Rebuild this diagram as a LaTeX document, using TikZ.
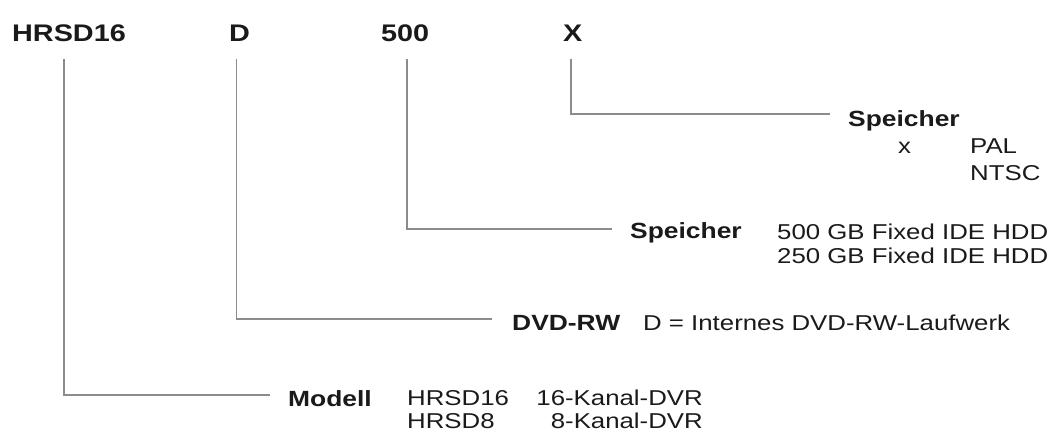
\documentclass[tikz,border=0pt]{standalone}
\usepackage{fontspec}
\newfontfamily\lf[FakeStretch=1.2]{Liberation Sans}
\definecolor{txt}{HTML}{1A1A1A}
\definecolor{ln}{HTML}{8C8C8C}
\tikzset{
  top/.style={anchor=base west, inner sep=0pt, text=txt, font=\lf\bfseries\fontsize{24}{28}\selectfont},
  lab/.style={anchor=base west, inner sep=0pt, text=txt, font=\lf\bfseries\fontsize{22}{26}\selectfont},
  val/.style={anchor=base west, inner sep=0pt, text=txt, font=\lf\fontsize{21.5}{25}\selectfont},
  conn/.style={draw=ln, line width=1.6pt, line cap=butt, line join=miter},
}
\begin{document}
\begin{tikzpicture}[x=1pt,y=-1pt]
\useasboundingbox (0,0) rectangle (1061,432);
% code parts
\node[top] (t1) at (12,41.5) {HRSD16};
\node[top] (t2) at (229,41.5) {D};
\node[top] (t3) at (381,41.5) {500};
\node[top] (t4) at (563,41.5) {X};
% X : Speicher
\node[lab] (l4) at (848,126) {Speicher};
\node[val] (v4a) at (898,153) {x};
\node[val] (v4b) at (970,153) {PAL};
\node[val] (v4c) at (970,180) {NTSC};
% 500 : Speicher
\node[lab] (l3) at (630,238) {Speicher};
\node[val] (v3a) at (777,239) {500 GB Fixed IDE HDD};
\node[val] (v3b) at (777,263) {250 GB Fixed IDE HDD};
% D : DVD-RW
\node[lab] (l2) at (512,330) {DVD-RW};
\node[val] (v2a) at (643,330) {D = Internes DVD-RW-Laufwerk};
% HRSD16 : Modell
\node[lab] (l1) at (288,406) {Modell};
\node[val] (v1a) at (407,405) {HRSD16};
\node[val] (v1b) at (407,428.5) {HRSD8};
\node[val, anchor=base east] (v1c) at (703,405) {16-Kanal-DVR};
\node[val, anchor=base east] (v1d) at (703,428.5) {8-Kanal-DVR};
% connectors
\draw[conn] ([xshift=-5pt,yshift=-17pt]t1.south) |- ([xshift=-18pt,yshift=11pt]l1.base west);
\draw[conn] ([xshift=-3pt,yshift=-17pt]t2.south) |- ([xshift=-20pt,yshift=11pt]l2.base west);
\draw[conn] ([xshift=2pt,yshift=-17pt]t3.south) |- ([xshift=-18pt,yshift=9pt]l3.base west);
\draw[conn] ([xshift=-2pt,yshift=-17pt]t4.south) |- ([xshift=-18pt,yshift=12pt]l4.base west);
\end{tikzpicture}
\end{document}
